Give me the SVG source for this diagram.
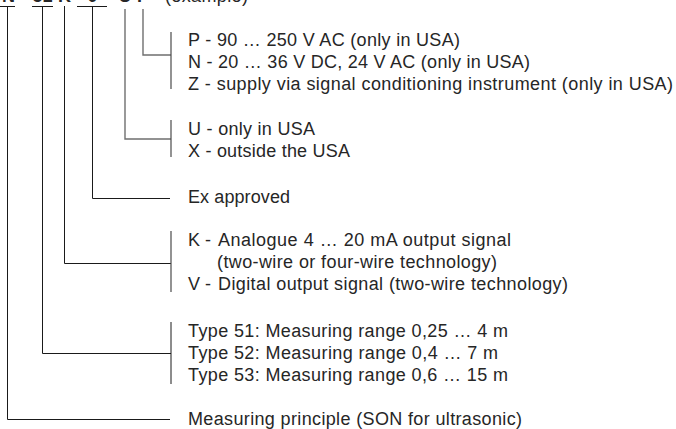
<svg xmlns="http://www.w3.org/2000/svg" width="676" height="429" viewBox="0 0 676 429">
<style>
text{font-family:"Liberation Sans",Arial,sans-serif;font-size:18px;fill:#262626}
.code{font-weight:bold}
.blk{stroke:#1a1a1a;stroke-width:1;fill:none}
.gry{stroke:#6f6f6f;stroke-width:1.4;fill:none}
.brk{stroke:#4a4a4a;stroke-width:1.2;fill:none}
</style>
<rect width="676" height="429" fill="#ffffff"/>
<g id="header">
<text class="code" x="15" y="1.5" text-anchor="end">SON</text>
<text class="code" x="42.5" y="1.5" text-anchor="middle">51</text>
<text class="code" x="64.5" y="1.5" text-anchor="middle">K</text>
<text class="code" x="92.5" y="1.5" text-anchor="middle">0</text>
<text class="code" x="125" y="1.5" text-anchor="middle">U</text>
<text class="code" x="143" y="1.5" text-anchor="middle">P</text>
<text x="165" y="1.5" textLength="83">(example)</text>
</g>
<g id="connectors">
<path class="blk" d="M0 6.5H15M32 6.5H53M77 6.5H107"/>
<path class="gry" d="M143 9V55H171"/>
<path class="gry" d="M125 9V139H171"/>
<path class="blk" d="M92.5 6V198.5H170"/>
<path class="blk" d="M64.5 6V263.5H171"/>
<path class="blk" d="M42.5 6V353.5H171"/>
<path class="blk" d="M7.5 6V419.5H170"/>
</g>
<g id="node-supply">
<path class="brk" d="M171 32V89"/>
<text x="188" y="46" textLength="272">P - 90 … 250 V AC (only in USA)</text>
<text x="188" y="68" textLength="342">N - 20 … 36 V DC, 24 V AC (only in USA)</text>
<text x="188" y="90" textLength="485">Z - supply via signal conditioning instrument (only in USA)</text>
</g>
<g id="node-region">
<path class="brk" d="M171 120V157"/>
<text x="188" y="135" textLength="127">U - only in USA</text>
<text x="188" y="157" textLength="162">X - outside the USA</text>
</g>
<g id="node-ex">
<text x="188" y="203" textLength="102">Ex approved</text>
</g>
<g id="node-output">
<path class="brk" d="M171 231V292"/>
<text x="188" y="246">K -</text>
<text x="218" y="246" textLength="293">Analogue 4 … 20 mA output signal</text>
<text x="217" y="268" textLength="280">(two-wire or four-wire technology)</text>
<text x="188" y="290">V -</text>
<text x="218" y="290" textLength="350">Digital output signal (two-wire technology)</text>
</g>
<g id="node-type">
<path class="blk" d="M171 322V384"/>
<text x="188" y="337" textLength="320">Type 51: Measuring range 0,25 … 4 m</text>
<text x="188" y="359" textLength="310">Type 52: Measuring range 0,4 … 7 m</text>
<text x="188" y="381" textLength="320">Type 53: Measuring range 0,6 … 15 m</text>
</g>
<g id="node-principle">
<text x="188" y="425" textLength="334">Measuring principle (SON for ultrasonic)</text>
</g>
</svg>
